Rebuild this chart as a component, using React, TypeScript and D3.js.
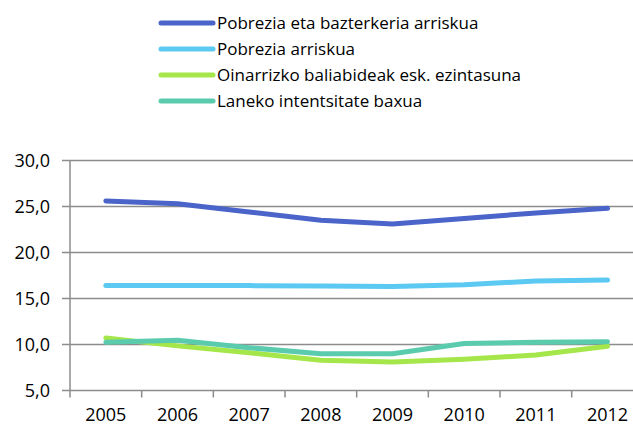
import React from "react";
import * as d3 from "d3";

const years = ["2005", "2006", "2007", "2008", "2009", "2010", "2011", "2012"];
const seriesNames = [
  "Pobrezia eta bazterkeria arriskua",
  "Pobrezia arriskua",
  "Oinarrizko baliabideak esk. ezintasuna",
  "Laneko intentsitate baxua",
];
const pobreziaBazterkeria = [25.6, 25.3, 24.4, 23.5, 23.1, 23.7, 24.3, 24.8];
const pobrezia = [16.4, 16.4, 16.4, 16.35, 16.3, 16.5, 16.9, 17.0];
const oinarrizko = [10.7, 9.85, 9.1, 8.3, 8.1, 8.4, 8.85, 9.8];
const laneko = [10.25, 10.45, 9.65, 9.0, 9.0, 10.1, 10.25, 10.3];
const colors = ["#4A64C9", "#5BC9F1", "#A5E64B", "#5ACCAD"];
const yTicks = [5, 10, 15, 20, 25, 30];

export default function App() {
  const W = 633, H = 426;
  const left = 70, top = 160.5, bottom = 390.5;
  const band = 71.67;
  const x = d3.scaleBand<string>().domain(years).range([left, left + band * years.length]);
  const y = d3.scaleLinear().domain([5, 30]).range([bottom, top]);
  const data = [pobreziaBazterkeria, pobrezia, oinarrizko, laneko];
  const line = d3
    .line<number>()
    .x((_, i) => (x(years[i]) as number) + x.bandwidth() / 2)
    .y((d) => y(d));
  const font = "'Open Sans', sans-serif";
  const gridColor = "#8c8c8c";
  const drawOrder = [2, 3, 1, 0];
  return (
    <svg width={W} height={H} style={{ position: "absolute", left: 0, top: 0 }}>
      <rect width={W} height={H} fill="#ffffff" />
      {seriesNames.map((name, i) => {
        const ly = 23 + i * 26;
        return (
          <g key={name}>
            <line x1={161} x2={213} y1={ly} y2={ly} stroke={colors[i]} strokeWidth={5} strokeLinecap="round" />
            <text x={217} y={ly} dy="0.35em" fontFamily={font} fontSize={17} fill="#000">
              {name}
            </text>
          </g>
        );
      })}
      {yTicks.map((t) => (
        <g key={t}>
          <line x1={left - 8} x2={W} y1={y(t)} y2={y(t)} stroke={gridColor} strokeWidth={1.5} />
          <text x={50} y={y(t)} dy="0.36em" textAnchor="end" fontFamily={font} fontSize={18} fill="#000">
            {d3.format(".1f")(t).replace(".", ",")}
          </text>
        </g>
      ))}
      <line x1={left} x2={left} y1={top} y2={bottom + 7} stroke={gridColor} strokeWidth={1.5} />
      {years.map((yr, i) => {
        const tx = left + band * (i + 1);
        return (
          <g key={yr}>
            {i < years.length - 1 && (
              <line x1={tx} x2={tx} y1={bottom} y2={bottom + 7} stroke={gridColor} strokeWidth={1.5} />
            )}
            <text
              x={(x(yr) as number) + x.bandwidth() / 2}
              y={421}
              textAnchor="middle"
              fontFamily={font}
              fontSize={18}
              fill="#000"
            >
              {yr}
            </text>
          </g>
        );
      })}
      {drawOrder.map((i) => (
        <path
          key={i}
          d={line(data[i]) as string}
          fill="none"
          stroke={colors[i]}
          strokeWidth={5}
          strokeLinecap="round"
          strokeLinejoin="round"
        />
      ))}
    </svg>
  );
}
